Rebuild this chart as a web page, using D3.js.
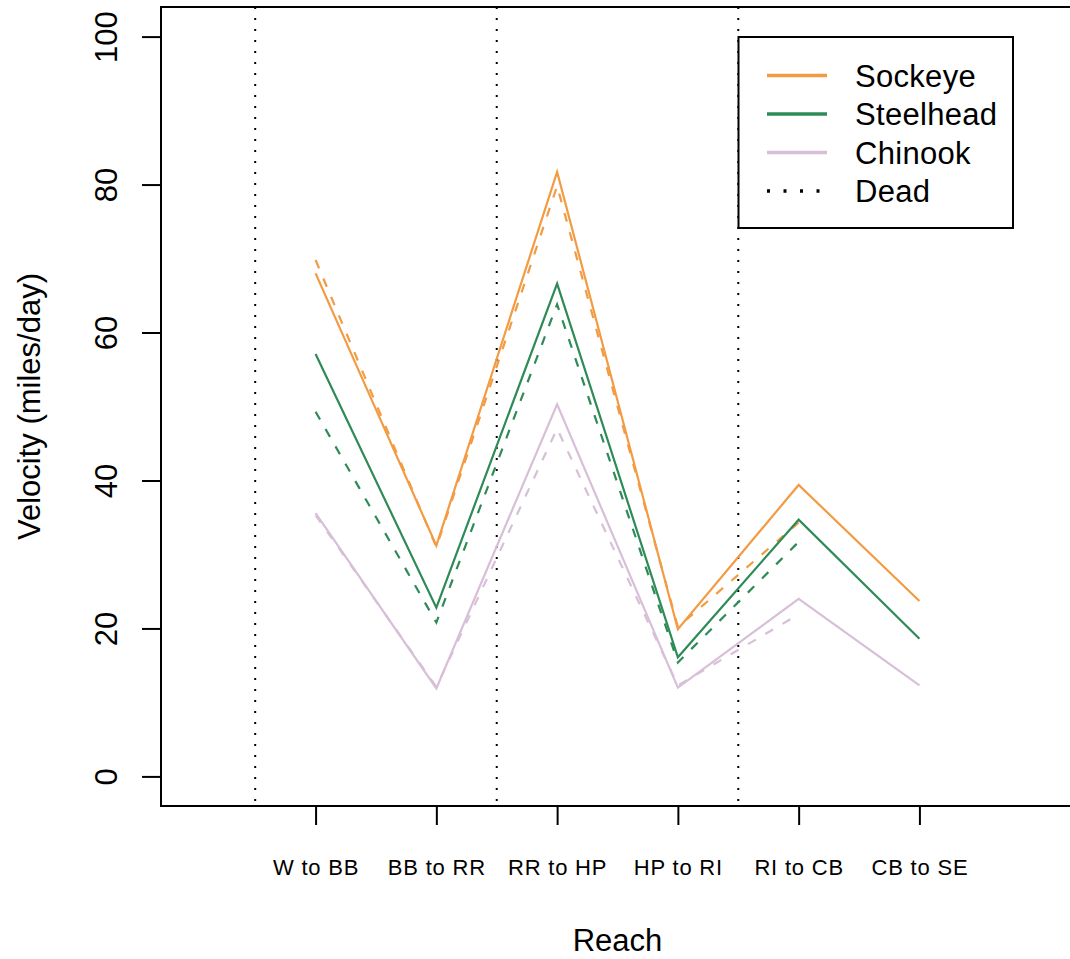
<!DOCTYPE html>
<html>
<head>
<meta charset="utf-8">
<script src="https://cdn.jsdelivr.net/npm/d3@7"></script>
<style>
  body { margin: 0; background: #fff; }
  text { font-family: "Liberation Sans", Arial, sans-serif; fill: #000; }
</style>
</head>
<body>
<div id="chart"></div>
<script>
// reach labels along x (positions 1..6)
var reaches = ["W to BB", "BB to RR", "RR to HP", "HP to RI", "RI to CB", "CB to SE"];

// mean velocity, live fish (solid)
var sockeye   = [68.0, 31.2, 81.7, 19.9, 39.4, 23.7];
var steelhead = [57.1, 22.8, 66.6, 16.1, 34.7, 18.6];
var chinook   = [35.6, 11.9, 50.3, 12.0, 24.0, 12.3];

// mean velocity, dead fish (dashed), no last reach
var sockeyeDead   = [69.8, 31.0, 79.8, 20.2, 34.3];
var steelheadDead = [49.3, 20.8, 63.8, 15.4, 31.7];
var chinookDead   = [35.3, 12.1, 47.0, 12.3, 21.9];

// vertical dotted separators
var deadLines = [0.5, 2.5, 4.5];
var yTicks = [0, 20, 40, 60, 80, 100];

var colors = {Sockeye: "#F39B43", Steelhead: "#2E8B57", Chinook: "#D8BFD8"};

var width = 1070, height = 959;
var box = {left: 161, right: 1074, top: 7, bottom: 806};

var svg = d3.select("#chart")
    .append("svg")
    .attr("width", width)
    .attr("height", height);

// xlim 0..7 and ylim 0..100 with 4% padding like base R
var x = d3.scaleLinear().domain([-0.28, 7.28]).range([box.left, box.right]);
var y = d3.scaleLinear().domain([-4, 104]).range([box.bottom, box.top]);

// dotted vertical lines
svg.append("g")
    .selectAll("line")
    .data(deadLines)
    .join("line")
        .attr("x1", d => x(d))
        .attr("x2", d => x(d))
        .attr("y1", box.top)
        .attr("y2", box.bottom)
        .attr("stroke", "#000")
        .attr("stroke-width", 2)
        .attr("stroke-dasharray", "2,9");

var series = [
    {name: "Sockeye", values: sockeye, dash: null},
    {name: "Sockeye", values: sockeyeDead, dash: "9,11"},
    {name: "Steelhead", values: steelhead, dash: null},
    {name: "Steelhead", values: steelheadDead, dash: "9,11"},
    {name: "Chinook", values: chinook, dash: null},
    {name: "Chinook", values: chinookDead, dash: "9,11"}
];

var line = d3.line()
    .x((d, i) => x(i + 1))
    .y(d => y(d));

svg.append("g")
    .selectAll("path")
    .data(series)
    .join("path")
        .attr("d", d => line(d.values))
        .attr("fill", "none")
        .attr("stroke", d => colors[d.name])
        .attr("stroke-width", 2.2)
        .attr("stroke-dasharray", d => d.dash);

// frame
svg.append("rect")
    .attr("x", box.left)
    .attr("y", box.top)
    .attr("width", box.right - box.left)
    .attr("height", box.bottom - box.top)
    .attr("fill", "none")
    .attr("stroke", "#000")
    .attr("stroke-width", 2);

// x axis
var xAxisG = svg.append("g")
    .attr("transform", "translate(0," + box.bottom + ")")
    .call(d3.axisBottom(x)
        .tickValues([1, 2, 3, 4, 5, 6])
        .tickFormat(d => reaches[d - 1])
        .tickSize(19)
        .tickPadding(34));
xAxisG.select(".domain").remove();
xAxisG.selectAll("line").attr("stroke-width", 2);
xAxisG.selectAll("text")
    .style("font-family", "'Liberation Sans', Arial, sans-serif")
    .style("font-size", "22px")
    .style("letter-spacing", "0.8px");

// y axis
var yAxisG = svg.append("g")
    .attr("transform", "translate(" + box.left + ",0)")
    .call(d3.axisLeft(y)
        .tickValues(yTicks)
        .tickSize(19));
yAxisG.select(".domain").remove();
yAxisG.selectAll("line").attr("stroke-width", 2);
yAxisG.selectAll("text")
    .attr("x", 0)
    .attr("y", -44)
    .attr("dy", null)
    .attr("transform", "rotate(-90)")
    .attr("text-anchor", "middle")
    .style("font-family", "'Liberation Sans', Arial, sans-serif")
    .style("font-size", "31px");

// axis titles
svg.append("text")
    .attr("x", (box.left + box.right) / 2)
    .attr("y", 951)
    .attr("text-anchor", "middle")
    .style("font-size", "31px")
    .text("Reach");

svg.append("text")
    .attr("transform", "translate(40," + y(50) + ") rotate(-90)")
    .attr("text-anchor", "middle")
    .style("font-size", "31px")
    .text("Velocity (miles/day)");

// legend
var legendItems = [
    {label: "Sockeye", color: colors.Sockeye, dash: null},
    {label: "Steelhead", color: colors.Steelhead, dash: null},
    {label: "Chinook", color: colors.Chinook, dash: null},
    {label: "Dead", color: "#000", dash: "3,13.5"}
];

var legend = svg.append("g");
legend.append("rect")
    .attr("x", 738.5)
    .attr("y", 37)
    .attr("width", 1013 - 738.5)
    .attr("height", 228 - 37)
    .attr("fill", "#fff")
    .attr("stroke", "#000")
    .attr("stroke-width", 2);

var rowY = d3.scaleLinear().domain([0, 3]).range([75.5, 191]);

var rows = legend.selectAll("g.row")
    .data(legendItems)
    .join("g")
        .attr("class", "row")
        .attr("transform", (d, i) => "translate(0," + rowY(i) + ")");
rows.append("line")
    .attr("x1", 767)
    .attr("x2", 827)
    .attr("stroke", d => d.color)
    .attr("stroke-width", 3.3)
    .attr("stroke-dasharray", d => d.dash);
rows.append("text")
    .attr("x", 855)
    .attr("y", 11)
    .style("font-size", "31px")
    .style("letter-spacing", "0.3px")
    .text(d => d.label);
</script>
</body>
</html>
